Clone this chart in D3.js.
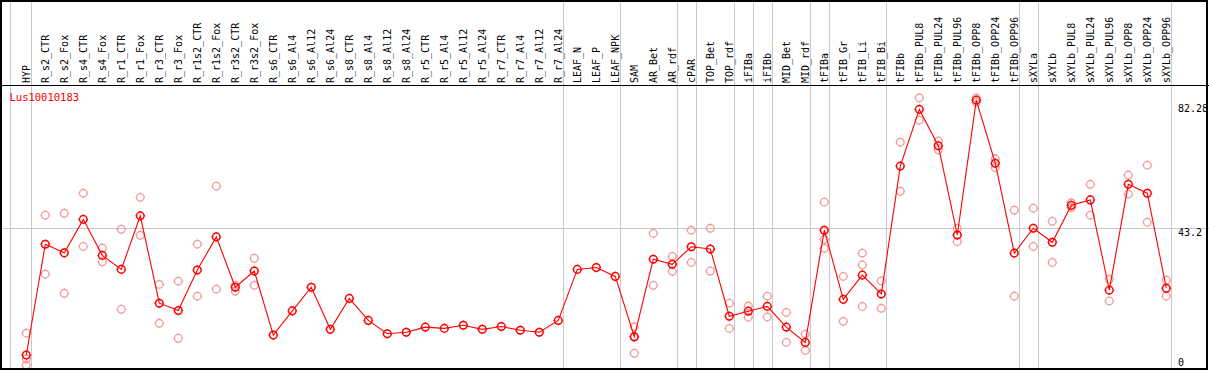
<!DOCTYPE html>
<html><head><meta charset="utf-8">
<script src="https://cdn.jsdelivr.net/npm/d3@7"></script>
<style>body{margin:0;background:#fff}svg{display:block}</style>
</head><body>
<script>
const categories = ["HYP","R_s2_CTR","R_s2_Fox","R_s4_CTR","R_s4_Fox","R_r1_CTR","R_r1_Fox","R_r3_CTR","R_r3_Fox","R_r1s2_CTR","R_r1s2_Fox","R_r3s2_CTR","R_r3s2_Fox","R_s6_CTR","R_s6_Al4","R_s6_Al12","R_s6_Al24","R_s8_CTR","R_s8_Al4","R_s8_Al12","R_s8_Al24","R_r5_CTR","R_r5_Al4","R_r5_Al12","R_r5_Al24","R_r7_CTR","R_r7_Al4","R_r7_Al12","R_r7_Al24","LEAF_N","LEAF_P","LEAF_NPK","SAM","AR_Bet","AR_rdf","cPAR","TOP_Bet","TOP_rdf","iFIBa","iFIBb","MID_Bet","MID_rdf","tFIBa","tFIB_Gr","tFIB_Li","tFIB_Bi","tFIBb","tFIBb_PUL8","tFIBb_PUL24","tFIBb_PUL96","tFIBb_OPP8","tFIBb_OPP24","tFIBb_OPP96","sXYLa","sXYLb","sXYLb_PUL8","sXYLb_PUL24","sXYLb_PUL96","sXYLb_OPP8","sXYLb_OPP24","sXYLb_OPP96"];
const means = [3.45,38.2,35.5,46.0,34.7,30.3,47.1,19.7,17.4,30.1,40.5,24.7,29.8,9.7,17.3,24.7,11.5,21.2,14.3,10.1,10.6,12.2,11.8,12.8,11.5,12.4,11.2,10.6,14.3,30.3,30.9,28.1,9.2,33.5,31.9,37.4,36.7,15.6,17.2,18.7,12.2,7.4,42.6,20.9,28.5,22.6,62.7,80.5,69.1,41.1,83.4,63.6,35.4,43.2,38.8,50.4,52.1,23.8,57.0,54.2,24.4];
const replicates = [[10.3,2.2,0.3],[47.3,28.8],[47.9,22.8],[54.2,37.5],[37.0,32.7],[42.9,17.8],[52.9,41.0],[25.6,13.4],[26.6,8.7],[38.2,21.9],[56.4,24.1],[25.3,23.5],[33.8,25.3],[],[],[],[],[],[],[],[],[],[],[],[],[],[],[],[],[],[],[],[12.3,9.0,4.0],[41.6,25.3],[34.4,29.7],[42.6,32.5],[43.2,29.8],[19.7,11.8],[18.8,15.3],[21.9,15.4],[16.8,7.4],[10.0,4.9],[51.4,39.7,36.9],[28.1,14.0],[35.4,31.7,18.7],[26.7,18.1],[70.2,54.8],[84.1,77.1],[70.6,67.8],[43.2,39.0],[84.1,82.7],[65.0,62.2],[48.9,21.9],[49.5,37.5],[45.4,32.5],[51.2,49.7],[57.0,47.3],[27.2,20.4],[59.9,53.9],[63.0,45.1],[26.9,21.9]];
const separatorsAfter = ["HYP","R_r7_Al24","LEAF_NPK","AR_rdf","cPAR","TOP_rdf","iFIBa","iFIBb","MID_rdf","tFIBa","tFIB_Bi","tFIBb_OPP96","sXYLa","sXYLb_OPP96"];
const yTicks = [82.28, 43.2, 0];
const yTickLabels = ["82.28","43.2","0"];
const gridValue = 43.2;
const geneName = "Lus10010183";

const W = 1209, H = 370;
const svg = d3.select("body").append("svg").attr("width", W).attr("height", H);
const x = d3.scalePoint().domain(categories).range([26.3, 1166.3]);
const y = d3.scaleLinear().domain([0, 82.28]).range([366, 103.7]);
const font = "'DejaVu Sans Mono', monospace";
const grid = "#c8c8c8";

svg.append("line").attr("x1", 10.5).attr("x2", 10.5).attr("y1", 0).attr("y2", H).attr("stroke", grid);
svg.selectAll(".vsep").data(separatorsAfter).enter().append("line")
  .attr("x1", d => Math.round(x(d) + 4.2) + 0.5).attr("x2", d => Math.round(x(d) + 4.2) + 0.5)
  .attr("y1", 0).attr("y2", H).attr("stroke", grid);
svg.append("line").attr("x1", 0).attr("x2", W).attr("y1", Math.round(y(gridValue)) + 0.5).attr("y2", Math.round(y(gridValue)) + 0.5).attr("stroke", grid);

svg.append("line").attr("x1", 0).attr("x2", W).attr("y1", 85.5).attr("y2", 85.5).attr("stroke", "#000");

svg.selectAll(".hl").data(categories).enter().append("text")
  .attr("transform", d => `translate(${x(d) + 3.8},83) rotate(-90)`)
  .attr("font-family", font).attr("font-size", 10).attr("fill", "#000")
  .text(d => d);

svg.selectAll(".yt").data(yTicks).enter().append("text")
  .attr("x", 1178).attr("y", d => Math.min(y(d) + 7.8, 365.5))
  .attr("font-family", font).attr("font-size", 10).attr("fill", "#000")
  .text((d, i) => yTickLabels[i]);

svg.append("text").attr("x", 9.5).attr("y", 101).attr("font-family", font).attr("font-size", 10.5)
  .attr("fill", "#ff0000").text(geneName);

function marker(g, cx, cy, color, sw) {
  const m = g.append("g").attr("transform", `translate(${cx},${cy})`);
  m.append("circle").attr("r", 3.8).attr("fill", "none").attr("stroke", color).attr("stroke-width", sw);
  [[0,-3.8,0,-4.9],[0,3.8,0,4.9],[-3.8,0,-4.9,0],[3.8,0,4.9,0]].forEach(s =>
    m.append("line").attr("x1", s[0]).attr("y1", s[1]).attr("x2", s[2]).attr("y2", s[3]).attr("stroke", color).attr("stroke-width", 0.9));
}

const gp = svg.append("g");
categories.forEach((c, i) => replicates[i].forEach(v => marker(gp, x(c), y(v), "#f09a9a", 1.3)));

svg.append("path").datum(means.map((v, i) => [x(categories[i]), y(v)]))
  .attr("d", d3.line()).attr("fill", "none").attr("stroke", "#ff0000").attr("stroke-width", 1.1);

const gm = svg.append("g");
categories.forEach((c, i) => marker(gm, x(c), y(means[i]), "#ff0000", 1.5));

svg.append("rect").attr("x", 1).attr("y", 1).attr("width", W - 3).attr("height", H - 2)
  .attr("fill", "none").attr("stroke", "#000").attr("stroke-width", 2);
</script>
</body></html>
